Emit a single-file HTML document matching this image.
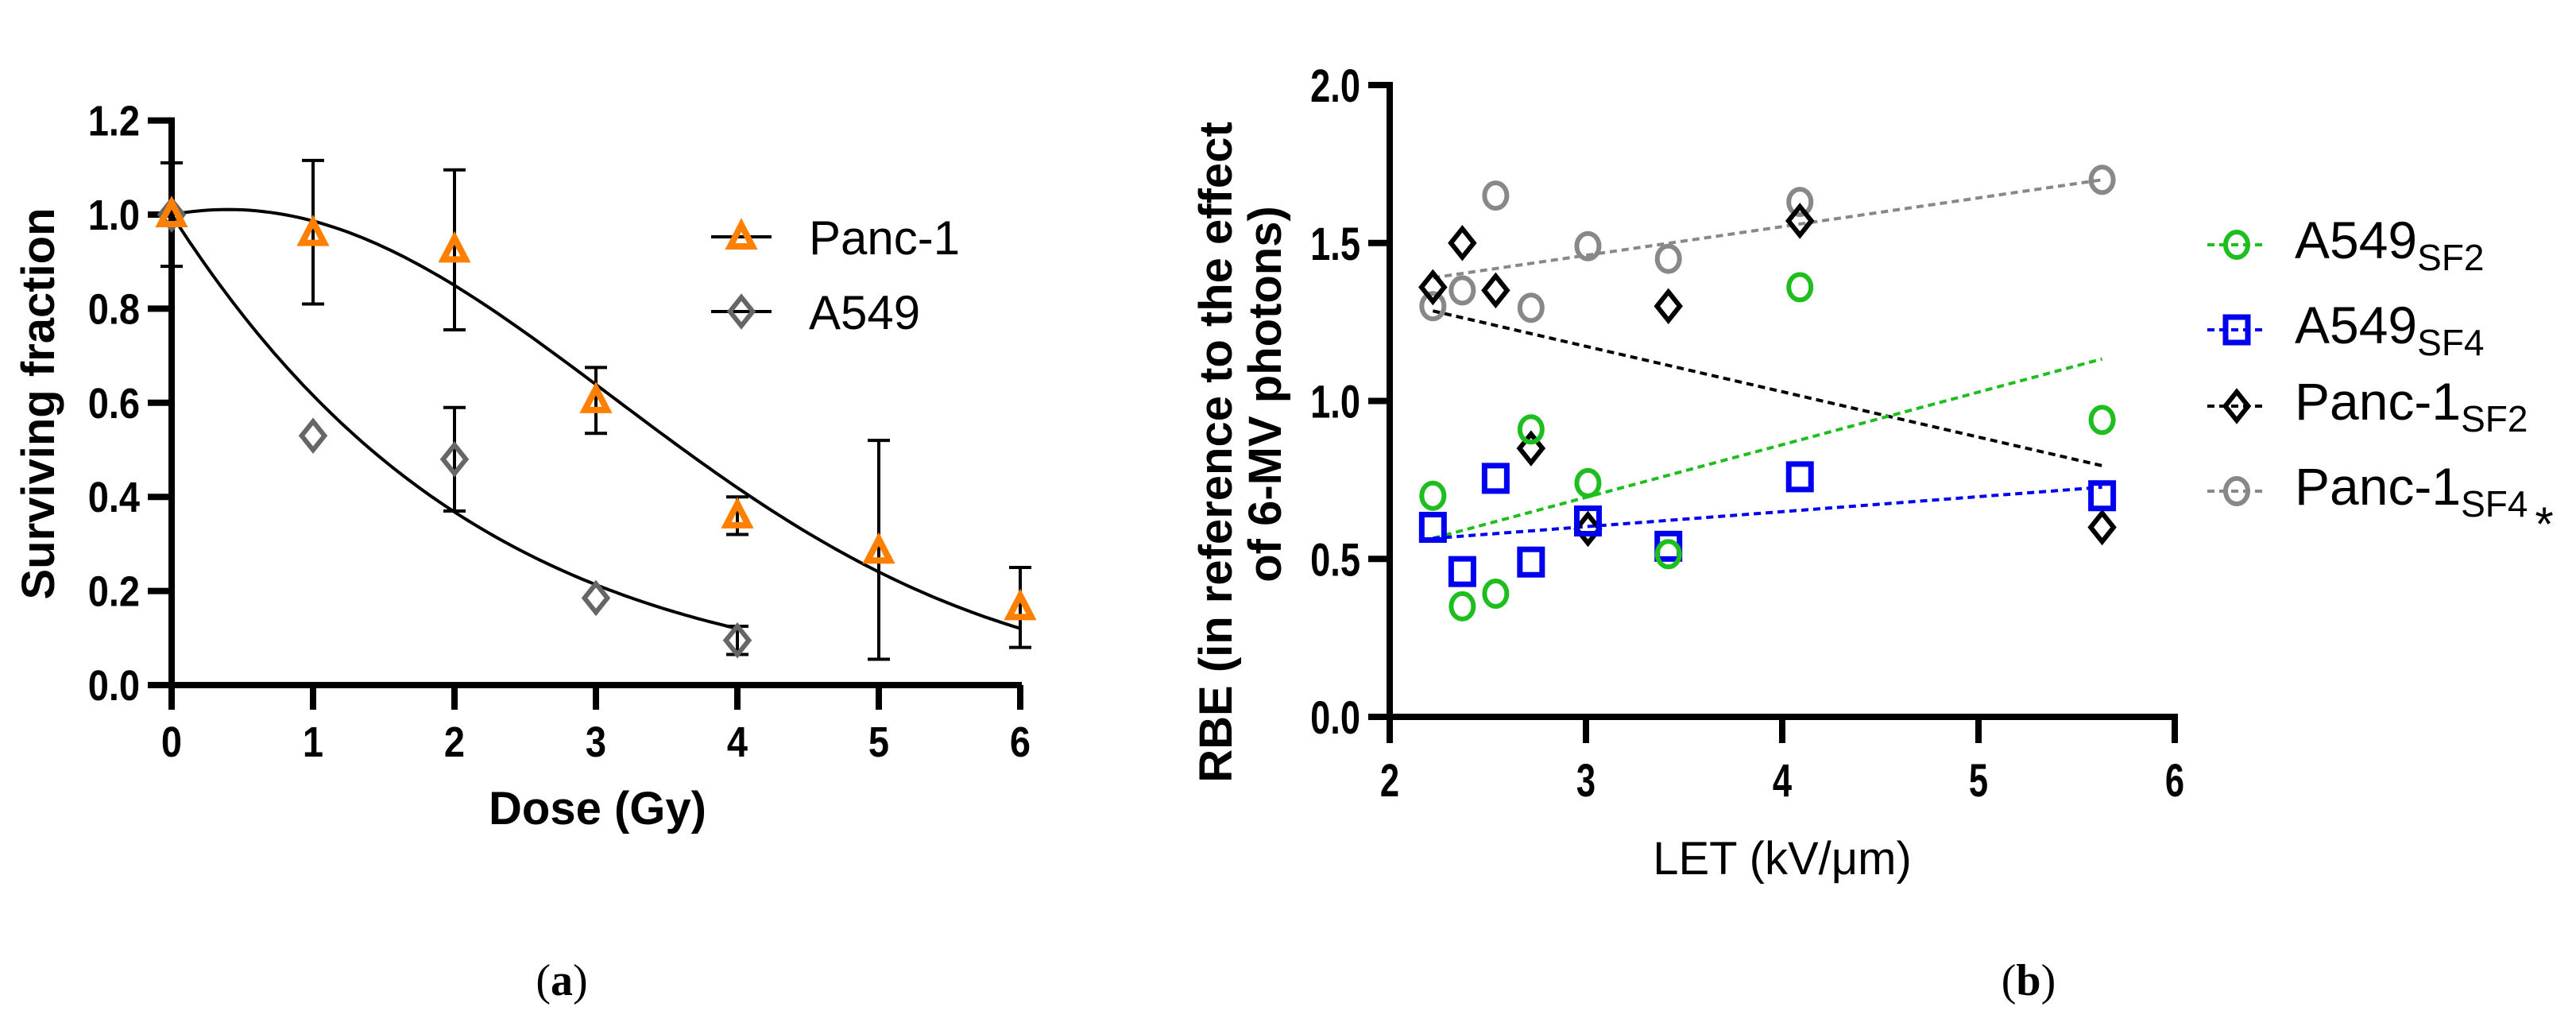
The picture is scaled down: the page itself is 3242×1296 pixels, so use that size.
<!DOCTYPE html>
<html><head><meta charset="utf-8"><style>
html,body{margin:0;padding:0;background:#fff;}
svg{display:block;font-family:"Liberation Sans",sans-serif;}
</style></head><body>
<svg id="fig" width="3242" height="1296" viewBox="0 0 3242 1296" xmlns="http://www.w3.org/2000/svg">
<g id="chartA"></g>
<g id="chartB"></g>
<text x="707" y="1252" text-anchor="middle" font-family="Liberation Serif, serif" font-size="56">(<tspan font-weight="bold">a</tspan>)</text>
<text x="2553" y="1252" text-anchor="middle" font-family="Liberation Serif, serif" font-size="56">(<tspan font-weight="bold">b</tspan>)</text>
</svg>
<script>
// ---- Chart A data ----
const doses = [0,1,2,3,4,5,6];
const pancVals = [1.0,0.96,0.925,0.605,0.36,0.285,0.165];
const pancLo = [0.89,0.81,0.755,0.535,0.32,0.055,0.08];
const pancHi = [1.11,1.115,1.095,0.675,0.40,0.52,0.25];
const a549Doses = [0,1,2,3,4];
const a549Vals = [1.0,0.53,0.48,0.185,0.095];
const a549Lo = [null,null,0.37,null,0.065];
const a549Hi = [null,null,0.59,null,0.125];
const pancFit = [-0.054,0.0678];   // LQ alpha, beta
const a549Fit = [0.47,0.015];
const aYTicks = ["0.0","0.2","0.4","0.6","0.8","1.0","1.2"];
const aXTicks = ["0","1","2","3","4","5","6"];
// ---- Chart B data ----
const letVals = [2.22,2.37,2.54,2.72,3.01,3.42,4.09,5.63];
const a549SF2 = [0.70,0.35,0.39,0.91,0.74,0.515,1.36,0.94];
const a549SF4 = [0.60,0.46,0.755,0.49,0.62,0.54,0.76,0.70];
const pancSF2 = [1.36,1.50,1.35,0.85,0.595,1.30,1.57,0.60];
const pancSF4 = [1.30,1.35,1.65,1.295,1.49,1.45,1.63,1.70];
const trendX = [2.22,5.63];
const trendA549SF2 = [0.565,1.133];
const trendA549SF4 = [0.565,0.727];
const trendPancSF2 = [1.285,0.795];
const trendPancSF4 = [1.39,1.70];
const bYTicks = ["0.0","0.5","1.0","1.5","2.0"];
const bXTicks = ["2","3","4","5","6"];

const NS="http://www.w3.org/2000/svg";
function mk(parent,tag,attrs,text){const e=document.createElementNS(NS,tag);for(const k in attrs)e.setAttribute(k,attrs[k]);if(text!==undefined)e.textContent=text;parent.appendChild(e);return e;}

// ---------- Chart A ----------
const A=document.getElementById('chartA');
const ax=d=>216+d*178;
const ay=v=>862-v*592;
function curve(fit,dmax,name){
  let p='';
  for(let i=0;i<=120;i++){const d=dmax*i/120;const s=Math.exp(-fit[0]*d-fit[1]*d*d);p+=(i?'L':'M')+ax(d).toFixed(1)+','+ay(s).toFixed(1);}
  const c=mk(A,'path',{d:p,fill:'none',stroke:'#000','stroke-width':4});
  
  
}
curve(pancFit,6,'panc1-fit-curve');
curve(a549Fit,4,'a549-fit-curve');
function errs(xs,lo,hi,name){
  xs.forEach((d,i)=>{if(lo[i]==null)return;
    const g=mk(A,'g',{stroke:'#000','stroke-width':4});
    
    
    mk(g,'line',{x1:ax(d),x2:ax(d),y1:ay(lo[i]),y2:ay(hi[i])});
    mk(g,'line',{x1:ax(d)-14,x2:ax(d)+14,y1:ay(lo[i]),y2:ay(lo[i])});
    mk(g,'line',{x1:ax(d)-14,x2:ax(d)+14,y1:ay(hi[i]),y2:ay(hi[i])});
  });
}
errs(doses,pancLo,pancHi,'panc1-error-bar');
errs(a549Doses,a549Lo,a549Hi,'a549-error-bar');
const axA=mk(A,'g',{stroke:'#000','stroke-width':8});


mk(axA,'line',{x1:216,x2:216,y1:ay(1.2)-4,y2:893});
mk(axA,'line',{x1:186,x2:1286,y1:862,y2:862});
aYTicks.forEach((t,i)=>{const v=i*0.2;mk(axA,'line',{x1:186,x2:216,y1:ay(v),y2:ay(v)});
  const tx=mk(A,'text',{transform:`translate(176,${ay(v)+19}) scale(0.87,1)`,'text-anchor':'end','font-size':54,'font-weight':'bold'},t);
  
  });
aXTicks.forEach((t,i)=>{mk(axA,'line',{x1:ax(i),x2:ax(i),y1:862,y2:893});
  const tx=mk(A,'text',{transform:`translate(${ax(i)},952) scale(0.87,1)`,'text-anchor':'middle','font-size':54,'font-weight':'bold'},t);
  
  });
function diamond(g,x,y,col,r,sw){return mk(g,'polygon',{points:`${x},${y-r} ${x+r*0.8},${y} ${x},${y+r} ${x-r*0.8},${y}`,fill:'none',stroke:col,'stroke-width':sw,'stroke-linejoin':'miter'});}
function tri(g,x,y,col){return mk(g,'polygon',{points:`${x},${y-15} ${x+14},${y+12} ${x-14},${y+12}`,fill:'none',stroke:col,'stroke-width':8,'stroke-linejoin':'miter'});}
a549Doses.forEach((d,i)=>{const m=diamond(A,ax(d),ay(a549Vals[i]),'#666',18,6);
  
  });
doses.forEach((d,i)=>{const m=tri(A,ax(d),ay(pancVals[i]),'#ff8000');
  
  });
const ta=mk(A,'text',{x:0,y:0,transform:'translate(68,508) rotate(-90)','text-anchor':'middle','font-size':58,'font-weight':'bold'},'Surviving fraction');


const tb=mk(A,'text',{x:752,y:1037,'text-anchor':'middle','font-size':58,'font-weight':'bold'},'Dose (Gy)');


const lgA=mk(A,'g',{});


mk(lgA,'line',{x1:895,x2:971,y1:298,y2:298,stroke:'#000','stroke-width':4});
tri(lgA,933,298,'#ff8000');
mk(lgA,'text',{x:1018,y:320,'font-size':60},'Panc-1');
mk(lgA,'line',{x1:895,x2:971,y1:392,y2:392,stroke:'#000','stroke-width':4});
diamond(lgA,933,392,'#666',18,6);
mk(lgA,'text',{x:1018,y:414,'font-size':60},'A549');

// ---------- Chart B ----------
const B=document.getElementById('chartB');
const bx=v=>1749+(v-2)*247;
const by=v=>902-v*397.5;
function trend(ys,col,name){const l=mk(B,'line',{x1:bx(trendX[0]),x2:bx(trendX[1]),y1:by(ys[0]),y2:by(ys[1]),stroke:col,'stroke-width':4,'stroke-dasharray':'9,6'});
  
  }
trend(trendPancSF4,'#888','panc1-sf4-trend');
trend(trendPancSF2,'#000','panc1-sf2-trend');
trend(trendA549SF2,'#1ebe1e','a549-sf2-trend');
trend(trendA549SF4,'#0000f0','a549-sf4-trend');
const axB=mk(B,'g',{stroke:'#000','stroke-width':8});


mk(axB,'line',{x1:1749,x2:1749,y1:by(2)-4,y2:935});
mk(axB,'line',{x1:1722,x2:bx(6)+4,y1:902,y2:902});
bYTicks.forEach((t,i)=>{const v=i*0.5;mk(axB,'line',{x1:1722,x2:1749,y1:by(v),y2:by(v)});
  const tx=mk(B,'text',{transform:`translate(1712,${by(v)+21}) scale(0.78,1)`,'text-anchor':'end','font-size':58,'font-weight':'bold'},t);
  
  });
bXTicks.forEach((t,i)=>{mk(axB,'line',{x1:bx(i+2),x2:bx(i+2),y1:902,y2:935});
  const tx=mk(B,'text',{transform:`translate(${bx(i+2)},1002) scale(0.75,1)`,'text-anchor':'middle','font-size':58,'font-weight':'bold'},t);
  
  });
function circ(g,x,y,col){return mk(g,'ellipse',{cx:x,cy:y,rx:14,ry:16,fill:'none',stroke:col,'stroke-width':6});}
function sq(g,x,y,col){return mk(g,'rect',{x:x-14,y:y-16,width:28,height:32,fill:'none',stroke:col,'stroke-width':7});}
letVals.forEach((x,i)=>{const m=circ(B,bx(x),by(pancSF4[i]),'#888');
  
  });
letVals.forEach((x,i)=>{const m=diamond(B,bx(x),by(pancSF2[i]),'#000',18,6);
  
  });
letVals.forEach((x,i)=>{const m=sq(B,bx(x),by(a549SF4[i]),'#0000f0');
  
  });
letVals.forEach((x,i)=>{const m=circ(B,bx(x),by(a549SF2[i]),'#1ebe1e');
  
  });
const t1=mk(B,'text',{x:0,y:0,transform:'translate(1550,569) rotate(-90)','text-anchor':'middle','font-size':58,'font-weight':'bold'},'RBE (in reference to the effect');


const t2=mk(B,'text',{x:0,y:0,transform:'translate(1612,496) rotate(-90)','text-anchor':'middle','font-size':58,'font-weight':'bold'},'of 6-MV photons)');


const t3=mk(B,'text',{x:2243,y:1100,'text-anchor':'middle','font-size':58},'LET (kV/μm)');


const lgB=mk(B,'g',{});


const rows=[['A549','SF2','#1ebe1e',308,'c'],['A549','SF4','#0000f0',415,'s'],['Panc-1','SF2','#000',511,'d'],['Panc-1','SF4','#888',618,'c']];
rows.forEach(r=>{
  mk(lgB,'line',{x1:2778,x2:2852,y1:r[3],y2:r[3],stroke:r[2],'stroke-width':4,'stroke-dasharray':'9,6'});
  if(r[4]==='c')circ(lgB,2815,r[3],r[2]);else if(r[4]==='s')sq(lgB,2815,r[3],r[2]);else diamond(lgB,2815,r[3],r[2],18,6);
  const t=mk(lgB,'text',{x:2888,y:r[3]+17,'font-size':66},r[0]);
  mk(t,'tspan',{'font-size':46,dy:15},r[1]);
});
const ast=mk(B,'text',{x:3202,y:680,'text-anchor':'middle','font-size':60},'*');


</script>
</body></html>
